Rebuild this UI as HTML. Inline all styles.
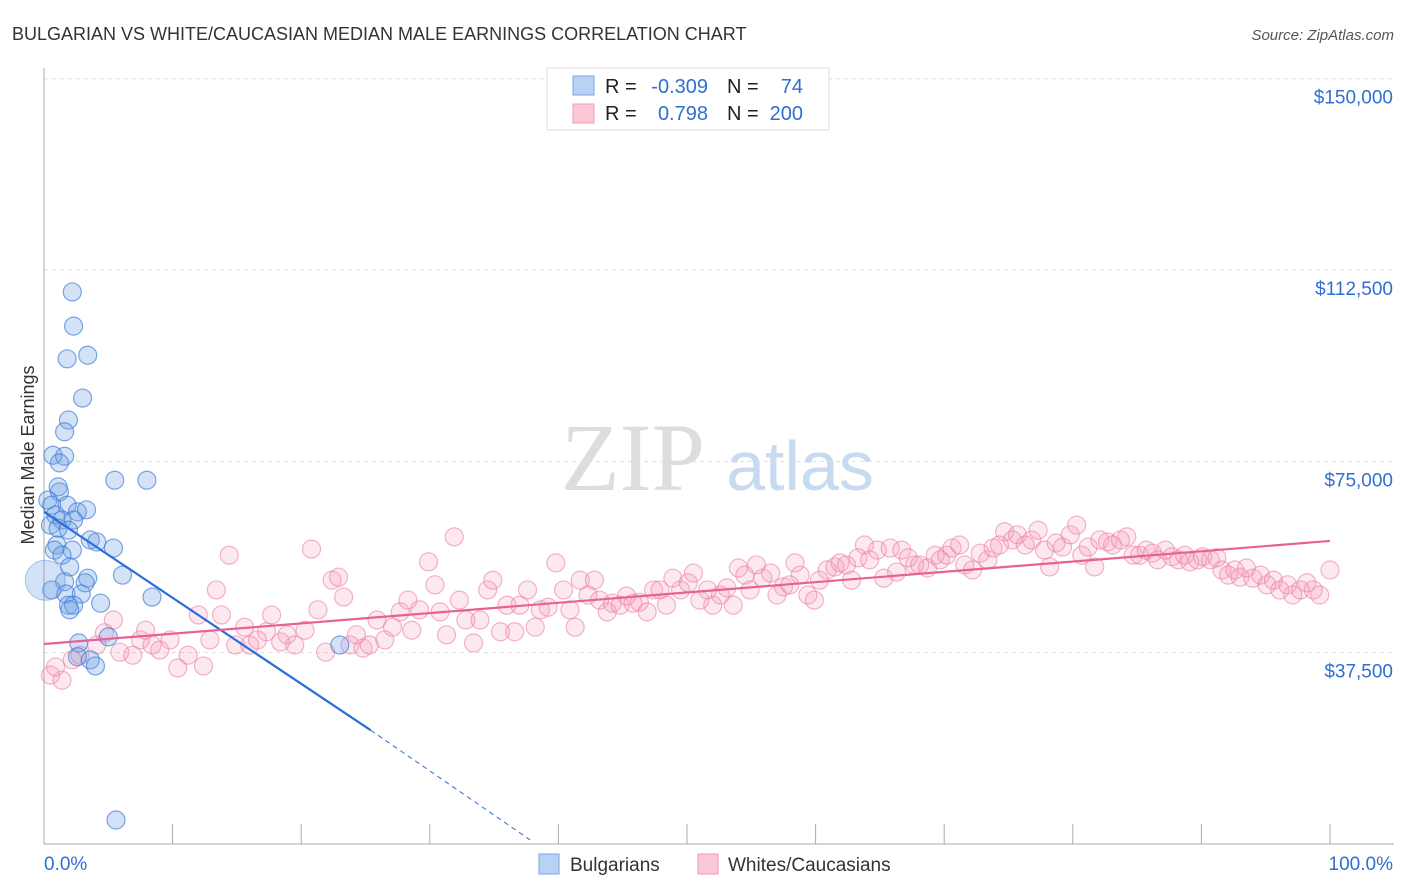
<!DOCTYPE html>
<html><head><meta charset="utf-8"><style>
body{margin:0;background:#fff;font-family:"Liberation Sans",sans-serif}
svg{display:block}
</style></head><body>
<svg id="c" width="1406" height="892" xmlns="http://www.w3.org/2000/svg">
<text x="12" y="40" font-size="18" fill="#333">BULGARIAN VS WHITE/CAUCASIAN MEDIAN MALE EARNINGS CORRELATION CHART</text>
<text x="1394" y="40" font-size="15" fill="#555" text-anchor="end" font-style="italic">Source: ZipAtlas.com</text>
<text transform="translate(34,455) rotate(-90)" font-size="18" fill="#333" text-anchor="middle">Median Male Earnings</text>
<g><text x="633" y="490" font-size="96" font-family="Liberation Serif" fill="#ddd" text-anchor="middle">ZIP</text><text x="800" y="490" font-size="70" fill="#c8daf0" text-anchor="middle">atlas</text></g>
<g id="grid"></g><g id="axes"></g><g id="pts"></g><g id="lines"></g>
<g>
<rect x="547" y="68" width="282" height="62" fill="#fff" stroke="#ddd"/>
<rect x="573" y="76" width="21" height="19" fill="#b8d2f5" stroke="#7aa6e0"/>
<rect x="573" y="104" width="21" height="19" fill="#fbc8d6" stroke="#f09ab4"/>
<text x="605" y="93" font-size="20" fill="#222">R =</text>
<text x="708" y="93" font-size="20" fill="#2f6fd1" text-anchor="end">-0.309</text>
<text x="727" y="93" font-size="20" fill="#222">N =</text>
<text x="803" y="93" font-size="20" fill="#2f6fd1" text-anchor="end">74</text>
<text x="605" y="120" font-size="20" fill="#222">R =</text>
<text x="708" y="120" font-size="20" fill="#2f6fd1" text-anchor="end">0.798</text>
<text x="727" y="120" font-size="20" fill="#222">N =</text>
<text x="803" y="120" font-size="20" fill="#2f6fd1" text-anchor="end">200</text>
</g>
<g>
<rect x="539" y="854" width="20" height="20" fill="#b8d2f5" stroke="#7aa6e0"/>
<text x="570" y="871" font-size="19" fill="#333">Bulgarians</text>
<rect x="698" y="854" width="20" height="20" fill="#fbc8d6" stroke="#f09ab4"/>
<text x="728" y="871" font-size="19" fill="#333">Whites/Caucasians</text>
</g>
</svg>
<script>
const yTicks=[37500,75000,112500,150000];
const yTickLabels=["$37,500","$75,000","$112,500","$150,000"];
const xTickLabels=["0.0%","100.0%"];
const blueX=[2.2,2.3,3.4,1.8,3.0,1.9,1.6,0.7,1.6,1.2,5.5,8.0,1.1,1.2,0.3,0.6,1.8,2.6,3.3,0.9,1.4,2.3,0.5,1.1,1.9,3.6,4.1,1.0,2.2,5.4,0.8,1.4,2.0,6.1,3.4,1.6,0.6,3.2,1.7,2.9,1.9,2.3,4.4,8.4,2.0,5.0,2.7,23.0,2.6,3.6,4.0,5.6];
const blueY=[108.2,101.5,95.8,95.1,87.4,83.1,80.8,76.2,76.0,74.7,71.3,71.3,70.0,69.0,67.4,66.4,66.4,65.1,65.5,64.5,63.5,63.5,62.5,61.9,61.5,59.6,59.2,58.6,57.6,58.0,57.6,56.6,54.3,52.7,52.1,51.4,49.8,51.2,49.0,49.0,46.8,46.8,47.2,48.4,45.9,40.6,39.4,39.0,36.7,36.1,34.9,4.7];
const pinkX=[0.5,1.4,0.9,2.2,2.8,4.1,5.4,4.7,5.9,6.9,7.5,7.9,8.4,9.0,9.8,10.4,11.2,12.0,12.4,12.9,13.4,13.8,14.4,14.9,15.6,16.0,16.6,17.3,17.7,18.4,18.9,19.5,20.3,20.8,21.3,21.9,22.4,22.9,23.3,23.8,24.3,24.8,25.3,25.9,26.5,27.1,27.7,28.3,28.6,29.2,29.9,30.4,30.8,31.3,31.9,32.3,32.8,33.4,33.9,34.5,34.9,35.5,36.0,36.6,37.0,37.6,38.2,38.6,39.2,39.8,40.4,40.9,41.3,41.7,42.3,42.8,43.2,43.8,44.2,44.8,45.3,45.8,46.3,46.9,47.4,47.9,48.4,48.9,49.5,50.1,50.5,51.0,51.6,52.0,52.6,53.1,53.6,54.0,54.5,54.9,55.4,55.9,56.5,57.0,57.5,58.0,58.4,58.8,59.4,59.9,60.3,60.9,61.5,61.9,62.4,62.8,63.3,63.8,64.2,64.8,65.3,65.8,66.3,66.7,67.2,67.7,68.1,68.7,69.3,69.7,70.2,70.6,71.2,71.6,72.2,72.8,73.4,73.8,74.3,74.7,75.3,75.7,76.3,76.8,77.3,77.8,78.2,78.7,79.2,79.8,80.3,80.7,81.2,81.7,82.1,82.7,83.1,83.7,84.2,84.7,85.2,85.7,86.2,86.6,87.2,87.7,88.2,88.7,89.1,89.7,90.1,90.7,91.2,91.6,92.1,92.6,93.0,93.5,94.0,94.6,95.1,95.6,96.1,96.7,97.1,97.7,98.2,98.7,99.2,100];
const pinkY=[33.1,32.1,34.7,36.1,37.0,39.0,43.9,41.4,37.6,37.0,40.0,41.9,39.0,38.0,40.0,34.5,37.0,44.9,34.9,40.0,49.8,44.9,56.6,39.0,42.5,39.0,40.0,41.6,44.9,39.6,41.0,39.0,41.9,57.8,45.9,37.6,51.7,52.3,48.4,39.0,41.0,38.4,39.0,43.9,40.0,42.5,45.5,47.8,41.9,45.9,55.3,50.8,45.5,41.0,60.2,47.8,43.9,39.4,43.9,49.8,51.7,41.6,46.8,41.6,46.8,49.8,42.5,45.9,46.4,55.1,49.8,45.9,42.5,51.7,48.8,51.7,47.8,45.5,47.2,46.8,48.6,47.2,47.4,45.5,49.8,49.8,46.8,52.1,49.8,51.2,53.1,47.8,49.8,46.8,48.8,50.2,46.8,54.1,52.7,49.8,54.7,52.1,53.1,48.8,50.4,50.8,55.1,52.7,48.8,47.8,51.7,53.7,54.3,55.1,54.7,51.7,56.1,58.6,55.7,57.6,52.1,58.0,53.3,57.6,56.1,54.7,54.7,54.1,56.6,55.7,56.6,58.0,58.6,54.7,53.7,57.0,55.7,58.0,58.6,61.2,59.6,60.6,58.6,59.6,61.5,57.6,54.3,59.0,58.2,60.6,62.5,56.6,58.2,54.3,59.6,59.2,58.6,59.6,60.2,56.6,56.6,57.6,57.0,55.7,57.6,56.3,55.7,56.6,55.3,55.7,56.3,55.7,56.1,53.7,52.7,53.7,52.3,54.1,52.1,52.7,50.8,51.7,49.8,50.8,48.8,49.8,51.2,49.8,48.8,53.7];
const blueTrend=[[0,65.1],[25.4,22.3]], blueDash=[[25.4,22.3],[37.8,0.8]];
const pinkTrend=[[0,39.2],[100,59.4]];
const NS="http://www.w3.org/2000/svg";
const X=p=>44+p*12.86, Y=v=>844-v*1000/196;
function mk(t,a,parent){const e=document.createElementNS(NS,t);for(const k in a)e.setAttribute(k,a[k]);document.getElementById(parent).appendChild(e);return e;}
yTicks.forEach((t,i)=>{const g=mk('line',{x1:44,x2:1394,y1:Y(t/1000),y2:Y(t/1000),stroke:'#ddd','stroke-dasharray':'4,4'},'grid');


const l=mk('text',{x:1393,y:Y(t/1000)+25,'font-size':19,fill:'#2f6fd1','text-anchor':'end'},'axes');l.textContent=yTickLabels[i];

});
let a=mk('line',{x1:44,x2:44,y1:68,y2:844,stroke:'#aaa'},'axes');


a=mk('line',{x1:44,x2:1394,y1:844,y2:844,stroke:'#aaa'},'axes');


for(let i=0;i<=10;i++){const t=mk('line',{x1:X(i*10),x2:X(i*10),y1:824,y2:844,stroke:'#aaa'},'axes');

}
[[0,'start',44],[1,'end',1393]].forEach(([i,an,x])=>{const l=mk('text',{x:x,y:870,'font-size':19,fill:'#2f6fd1','text-anchor':an},'axes');l.textContent=xTickLabels[i];

});
pinkX.forEach((x,i)=>{const c=mk('circle',{cx:X(x),cy:Y(pinkY[i]),r:9,fill:'rgba(245,150,180,0.22)',stroke:'rgba(235,130,165,0.6)','stroke-width':1.2},'pts');

});
blueX.forEach((x,i)=>{const c=mk('circle',{cx:X(x),cy:Y(blueY[i]),r:9,fill:'rgba(110,160,230,0.3)',stroke:'rgba(60,120,215,0.65)','stroke-width':1.2},'pts');

});
let big=mk('circle',{cx:X(0.1),cy:Y(51.7),r:20,fill:'rgba(110,160,230,0.3)',stroke:'rgba(60,120,215,0.4)'},'pts');


let l1=mk('line',{x1:X(blueTrend[0][0]),y1:Y(blueTrend[0][1]),x2:X(blueTrend[1][0]),y2:Y(blueTrend[1][1]),stroke:'#2b6fd6','stroke-width':2.2},'lines');


let l2=mk('line',{x1:X(blueDash[0][0]),y1:Y(blueDash[0][1]),x2:X(blueDash[1][0]),y2:Y(blueDash[1][1]),stroke:'#2b6fd6','stroke-width':1,'stroke-dasharray':'5,4'},'lines');


let l3=mk('line',{x1:X(pinkTrend[0][0]),y1:Y(pinkTrend[0][1]),x2:X(pinkTrend[1][0]),y2:Y(pinkTrend[1][1]),stroke:'#e8609a','stroke-width':2.2},'lines');


</script>
</body></html>
